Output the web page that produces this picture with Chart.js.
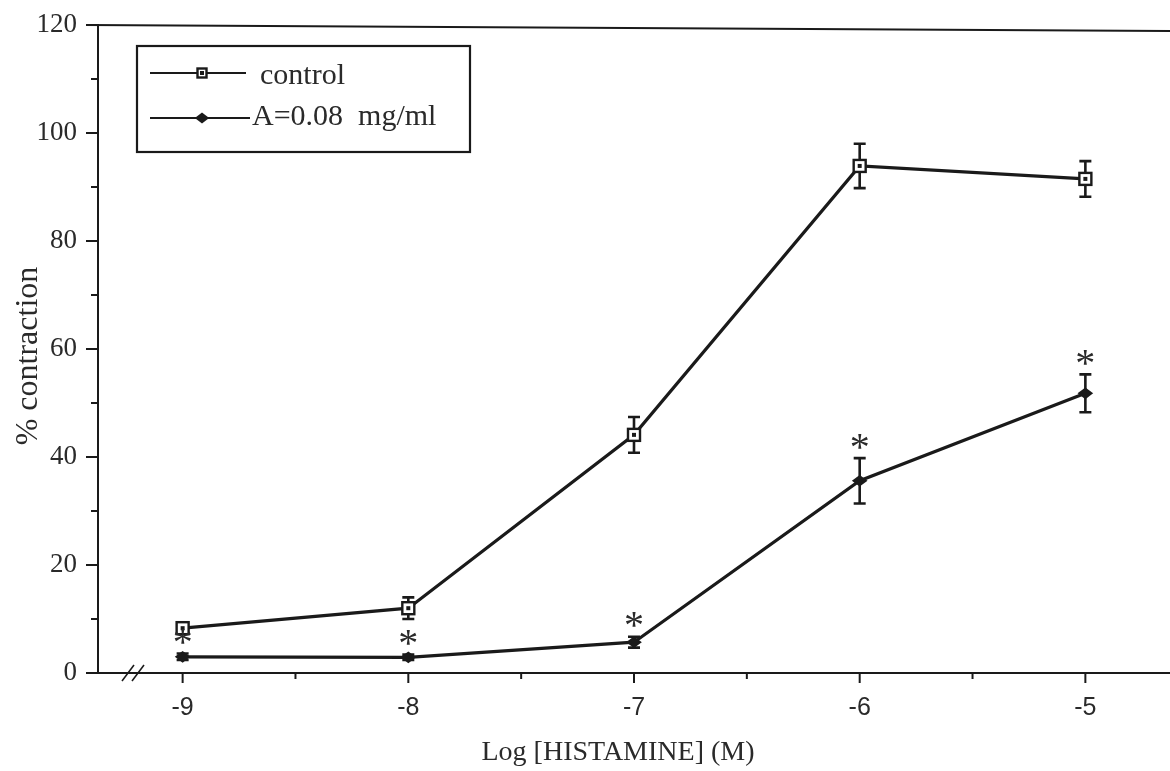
<!DOCTYPE html>
<html>
<head>
<meta charset="utf-8">
<script src="https://cdn.jsdelivr.net/npm/chart.js@4.4.1/dist/chart.umd.min.js"></script>
<style>
  html, body { margin: 0; padding: 0; background: #fff; }
  #wrap { width: 1170px; height: 771px; position: relative; }
</style>
</head>
<body>
<div id="wrap"><canvas id="c" width="1170" height="771"></canvas></div>
<script>
// Log [HISTAMINE] (M) concentrations
const logDose = [-9, -8, -7, -6, -5];
// % contraction, mean and SEM
const controlMean = [8.3, 12.0, 44.1, 93.9, 91.5];
const controlSem  = [0.8, 2.0, 3.3, 4.1, 3.3];
const treatedMean = [3.0, 2.9, 5.7, 35.6, 51.8];
const treatedSem  = [0.6, 0.5, 1.0, 4.2, 3.5];
// significance markers for the treated series
const treatedSig = [true, true, true, true, true];
// axis ticks
const xTicks = [-9, -8.5, -8, -7.5, -7, -6.5, -6, -5.5, -5];
const yTicks = [0, 10, 20, 30, 40, 50, 60, 70, 80, 90, 100, 110, 120];
const seriesLabels = ['control', 'A=0.08  mg/ml'];
const xTitle = 'Log [HISTAMINE] (M)';
const yTitle = '% contraction';

const INK = '#1a1a1a';
const TXT = '#2a2a2a';
const serif = '"Liberation Serif", "Times New Roman", serif';
const sans = '"Liberation Sans", Arial, sans-serif';

function pts(xs, ys) { return xs.map((x, i) => ({ x: x, y: ys[i] })); }

// open square with a small centre dot
function squareMarker(ctx, x, y, s) {
  ctx.save();
  ctx.lineWidth = 2.4;
  ctx.strokeStyle = INK;
  ctx.fillStyle = '#fff';
  ctx.fillRect(x - s / 2, y - s / 2, s, s);
  ctx.strokeRect(x - s / 2, y - s / 2, s, s);
  ctx.fillStyle = INK;
  ctx.fillRect(x - 2, y - 2, 4, 4);
  ctx.restore();
}
// filled diamond, a little wider than tall
function diamondMarker(ctx, x, y, s) {
  ctx.save();
  ctx.fillStyle = INK;
  ctx.beginPath();
  ctx.moveTo(x, y - s * 0.45);
  ctx.lineTo(x + s * 0.6, y);
  ctx.lineTo(x, y + s * 0.45);
  ctx.lineTo(x - s * 0.6, y);
  ctx.closePath();
  ctx.fill();
  ctx.restore();
}

const decorations = {
  id: 'decorations',
  afterDraw(chart) {
    const ctx = chart.ctx;
    const xs = chart.scales.x, ys = chart.scales.y;
    const area = chart.chartArea;
    ctx.save();
    ctx.strokeStyle = INK;
    ctx.lineCap = 'butt';

    // frame top line
    ctx.lineWidth = 2;
    ctx.beginPath();
    ctx.moveTo(area.left - 12, ys.getPixelForValue(120));
    ctx.lineTo(area.right, ys.getPixelForValue(120) + 6);
    ctx.stroke();

    // y tick marks (outside, minor shorter)
    ctx.lineWidth = 2;
    yTicks.forEach(v => {
      const py = ys.getPixelForValue(v);
      const len = v % 20 === 0 ? 12 : 7;
      ctx.beginPath();
      ctx.moveTo(area.left - len, py);
      ctx.lineTo(area.left, py);
      ctx.stroke();
    });
    // x tick marks (below axis)
    xTicks.forEach(v => {
      const px = xs.getPixelForValue(v);
      const len = Number.isInteger(v) ? 10 : 6;
      ctx.beginPath();
      ctx.moveTo(px, area.bottom);
      ctx.lineTo(px, area.bottom + len);
      ctx.stroke();
    });
    // x axis extends slightly left of the y axis
    ctx.beginPath();
    ctx.moveTo(area.left - 4, area.bottom);
    ctx.lineTo(area.left, area.bottom);
    ctx.stroke();

    // axis break marks
    ctx.lineWidth = 1.6;
    [0, 10].forEach(dx => {
      const bx = area.left + 30 + dx;
      ctx.beginPath();
      ctx.moveTo(bx - 6, area.bottom + 8);
      ctx.lineTo(bx + 6, area.bottom - 8);
      ctx.stroke();
    });

    // error bars
    const series = [[controlMean, controlSem], [treatedMean, treatedSem]];
    ctx.lineWidth = 2.6;
    series.forEach(([m, e]) => {
      logDose.forEach((d, i) => {
        const px = xs.getPixelForValue(d);
        const top = ys.getPixelForValue(m[i] + e[i]);
        const bot = ys.getPixelForValue(m[i] - e[i]);
        ctx.beginPath();
        ctx.moveTo(px, top); ctx.lineTo(px, bot);
        ctx.moveTo(px - 6, top); ctx.lineTo(px + 6, top);
        ctx.moveTo(px - 6, bot); ctx.lineTo(px + 6, bot);
        ctx.stroke();
      });
    });

    // markers
    logDose.forEach((d, i) => {
      squareMarker(ctx, xs.getPixelForValue(d), ys.getPixelForValue(controlMean[i]), 12);
      diamondMarker(ctx, xs.getPixelForValue(d), ys.getPixelForValue(treatedMean[i]), 13);
    });

    // significance asterisks, centred above the error bar
    ctx.fillStyle = TXT;
    ctx.font = '40px ' + serif;
    ctx.textAlign = 'center';
    ctx.textBaseline = 'alphabetic';
    const m = ctx.measureText('*');
    const half = (m.actualBoundingBoxAscent - m.actualBoundingBoxDescent) / 2;
    logDose.forEach((d, i) => {
      if (!treatedSig[i]) return;
      const cy = ys.getPixelForValue(treatedMean[i] + treatedSem[i]) - 17;
      ctx.fillText('*', xs.getPixelForValue(d), cy + half);
    });

    // legend box
    const lx = 137, ly = 46, lw = 333, lh = 106;
    ctx.lineWidth = 2.2;
    ctx.strokeRect(lx, ly, lw, lh);
    const rows = [
      { y: 73, mk: squareMarker, size: 9, tx: 260, base: 84 },
      { y: 118, mk: diamondMarker, size: 12, tx: 252, base: 125 }
    ];
    ctx.font = '30px ' + serif;
    ctx.textAlign = 'left';
    ctx.textBaseline = 'alphabetic';
    rows.forEach((r, k) => {
      ctx.lineWidth = 2.2;
      ctx.beginPath();
      ctx.moveTo(150, r.y);
      ctx.lineTo(k === 0 ? 246 : 250, r.y);
      ctx.stroke();
      r.mk(ctx, 202, r.y, r.size);
      ctx.fillText(seriesLabels[k], r.tx, r.base);
    });

    // axis titles
    ctx.font = '28px ' + serif;
    ctx.textAlign = 'center';
    ctx.fillText(xTitle, 618, 760);
    ctx.save();
    ctx.translate(37, 356);
    ctx.rotate(-Math.PI / 2);
    ctx.font = '32px ' + serif;
    ctx.fillText(yTitle, 0, 0);
    ctx.restore();

    ctx.restore();
  }
};

new Chart(document.getElementById('c'), {
  type: 'scatter',
  data: {
    datasets: [
      { label: seriesLabels[0], data: pts(logDose, controlMean), showLine: true,
        borderColor: INK, borderWidth: 3.2, pointRadius: 0, tension: 0 },
      { label: seriesLabels[1], data: pts(logDose, treatedMean), showLine: true,
        borderColor: INK, borderWidth: 3.2, pointRadius: 0, tension: 0 }
    ]
  },
  options: {
    responsive: false,
    animation: false,
    events: [],
    layout: { padding: { top: 25, right: 0, left: 0, bottom: 0 } },
    plugins: { legend: { display: false }, tooltip: { enabled: false } },
    scales: {
      x: {
        type: 'linear', min: -9.375, max: -4.625,
        afterBuildTicks: s => { s.ticks = xTicks.map(v => ({ value: v })); },
        afterFit: s => { s.height = 98; s.paddingLeft = 0; s.paddingRight = 0; },
        grid: { display: false, drawTicks: false },
        border: { display: true, color: INK, width: 2 },
        ticks: {
          padding: 20, color: TXT, maxRotation: 0, autoSkip: false,
          font: { family: sans, size: 25 },
          callback: v => Number.isInteger(v) ? String(v) : ''
        }
      },
      y: {
        min: 0, max: 120,
        afterBuildTicks: s => { s.ticks = yTicks.map(v => ({ value: v })); },
        afterFit: s => { s.width = 98; s.paddingTop = 0; s.paddingBottom = 0; },
        grid: { display: false, drawTicks: false },
        border: { display: true, color: INK, width: 2 },
        ticks: {
          padding: 21, color: TXT, autoSkip: false,
          font: { family: serif, size: 27 },
          callback: v => v % 20 === 0 ? String(v) : ''
        }
      }
    }
  },
  plugins: [decorations]
});
</script>
</body>
</html>
